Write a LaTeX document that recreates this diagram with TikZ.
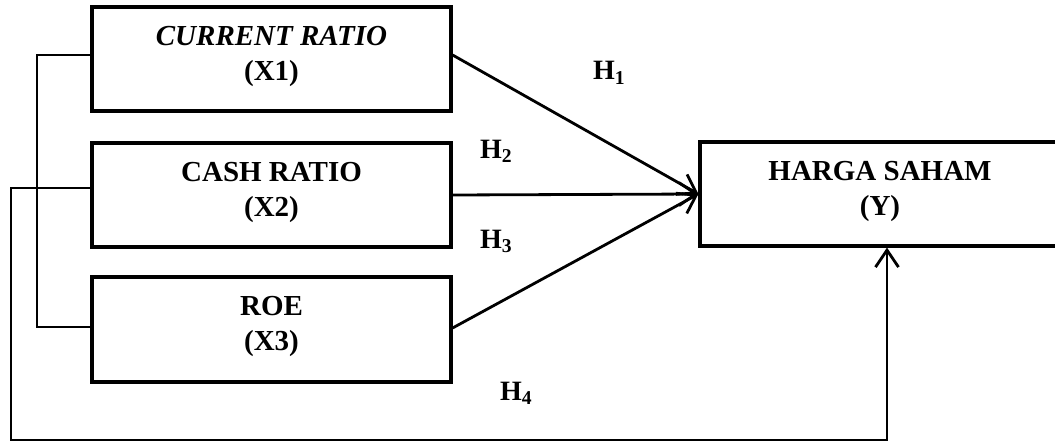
\documentclass[tikz,border=0pt]{standalone}
\usepackage{fontspec}
\setmainfont{Liberation Serif}
\usetikzlibrary{arrows.meta}
\begin{document}
\begin{tikzpicture}[x=1pt,y=-1pt,
  box/.style={draw,line width=3.2pt,minimum width=359pt,minimum height=104pt,
    align=center,inner sep=0pt,text depth=12pt,font=\fontsize{29}{35}\selectfont\bfseries},
  conn/.style={line width=2.8pt},
  arr/.style={conn,-{Straight Barb[length=17pt,width=23pt,line width=2.8pt]}},
  hyp/.style={anchor=base west,inner sep=0pt,font=\fontsize{28}{32}\selectfont\bfseries}]
\useasboundingbox (0,0) rectangle (1055,441);
\clip (0,0) rectangle (1055,441);
\fill[white] (0,0) rectangle (1055,441);
\node[box] (x1) at (271.5,59) {\textit{CURRENT RATIO}\\(X1)};
\node[box] (x2) at (271.5,195) {CASH RATIO\\(X2)};
\node[box,minimum height=105pt] (x3) at (271.5,329.5) {ROE\\(X3)};
\node[box,minimum width=360pt] (y) at (880,194) {HARGA SAHAM\\(Y)};
\node[hyp] (h1) at (593,80) {H\textsubscript{1}};
\node[hyp] (h2) at (480,158) {H\textsubscript{2}};
\node[hyp] (h3) at (480,248) {H\textsubscript{3}};
\node[hyp] (h4) at (500,400) {H\textsubscript{4}};
\coordinate (brk) at (37,55);
\coordinate (lo) at (11,440);
\draw[conn] ([yshift=4pt]x1.west) -- (brk) |- ([yshift=2.5pt]x3.west);
\draw[arr] ([yshift=4pt]x1.east) -- (y.west);
\draw[arr] (x2.east) -- (y.west);
\draw[arr] ([yshift=1.5pt]x3.east) -- (y.west);
\draw[arr] ([yshift=7pt]x2.west) -| (lo) -| ([xshift=7pt]y.south);
\end{tikzpicture}
\end{document}
